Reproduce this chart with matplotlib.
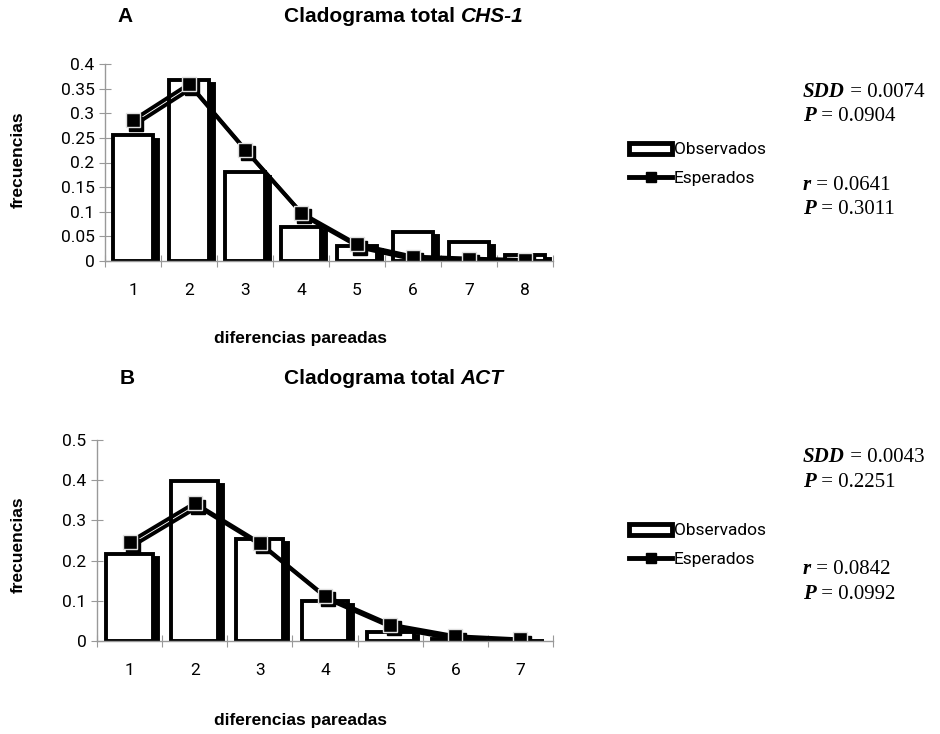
import matplotlib
matplotlib.use("Agg")
import matplotlib.pyplot as plt
import matplotlib.transforms as mtransforms
from matplotlib.lines import Line2D
from matplotlib.patches import Rectangle

# Panel A: CHS-1
cats_a = [1, 2, 3, 4, 5, 6, 7, 8]
obs_a = [0.255, 0.367, 0.180, 0.069, 0.030, 0.059, 0.038, 0.012]
esp_a = [0.286, 0.359, 0.226, 0.098, 0.034, 0.009, 0.005, 0.002]
yticks_a = [0, 0.05, 0.1, 0.15, 0.2, 0.25, 0.3, 0.35, 0.4]
ylabels_a = ["0", "0.05", "0.1", "0.15", "0.2", "0.25", "0.3", "0.35", "0.4"]

# Panel B: ACT
cats_b = [1, 2, 3, 4, 5, 6, 7]
obs_b = [0.216, 0.398, 0.254, 0.100, 0.023, 0.004, 0.001]
esp_b = [0.246, 0.343, 0.244, 0.112, 0.041, 0.012, 0.004]
yticks_b = [0, 0.1, 0.2, 0.3, 0.4, 0.5]
ylabels_b = ["0", "0.1", "0.2", "0.3", "0.4", "0.5"]

stats_a = [("SDD", "0.0074"), ("P", "0.0904"), ("r", "0.0641"), ("P", "0.3011")]
stats_b = [("SDD", "0.0043"), ("P", "0.2251"), ("r", "0.0842"), ("P", "0.0992")]

W, H = 940, 734
fig = plt.figure(figsize=(9.4, 7.34), dpi=100)
sans = "Liberation Sans"
tickfont = "Roboto"
serif = "Liberation Serif"


def panel(rect, cats, obs, esp, ylim, yticks, ylabels):
    ax = fig.add_axes(rect)
    # solid black drop shadow behind the bars and the expected line
    shadow = mtransforms.offset_copy(ax.transData, fig=fig, x=3.5, y=-3, units="points")
    ax.bar(cats, obs, width=0.72, facecolor="black", edgecolor="black",
           linewidth=2.8, transform=shadow, zorder=1)
    ax.bar(cats, obs, width=0.72, facecolor="white", edgecolor="black",
           linewidth=2.8, zorder=2)
    lshadow = mtransforms.offset_copy(ax.transData, fig=fig, x=2.5, y=-2.5, units="points")
    ax.plot(cats, esp, color="black", lw=2.8, marker="s", markersize=10,
            markerfacecolor="black", markeredgecolor="black", transform=lshadow, zorder=3)
    ax.plot(cats, esp, color="black", lw=2.8, marker="s", markersize=10,
            markerfacecolor="black", markeredgecolor="#e0e0e0", markeredgewidth=1,
            zorder=4)
    n = len(cats)
    ax.set_xlim(0.5, n + 0.5)
    ax.set_ylim(*ylim)
    ax.set_yticks(yticks)
    ax.set_yticklabels(ylabels)
    ax.set_xticks([c + 0.5 for c in [0] + cats])
    ax.set_xticks(cats, minor=True)
    ax.set_xticklabels([])
    ax.set_xticklabels([str(c) for c in cats], minor=True)
    for s in ["top", "right"]:
        ax.spines[s].set_visible(False)
    for s in ["left", "bottom"]:
        ax.spines[s].set_color("#999999")
        ax.spines[s].set_linewidth(1)
        ax.spines[s].set_zorder(5)
    ax.tick_params(axis="y", direction="inout", length=9, color="#999999",
                   labelsize=12.5, pad=3)
    ax.tick_params(axis="x", which="major", direction="inout", length=9,
                   color="#999999")
    ax.tick_params(axis="x", which="minor", length=0, labelsize=12.5, pad=16)
    for lab in ax.get_yticklabels() + ax.get_xticklabels(minor=True):
        lab.set_fontfamily(tickfont)
    return ax


def fx(px):
    return px / W


def fy(py):
    return 1 - py / H


ax_a = panel([fx(105), fy(261), fx(448), (261 - 64) / H], cats_a, obs_a, esp_a,
             (0, 0.4), yticks_a, ylabels_a)
ax_b = panel([fx(97), fy(641), fx(456), (641 - 440) / H], cats_b, obs_b, esp_b,
             (0, 0.5), yticks_b, ylabels_b)


def title(letter, lx, y, main, ital, tx):
    fig.text(fx(lx), fy(y), letter, fontsize=15, fontweight="bold", family=sans,
             ha="center", va="center")
    t = fig.text(fx(tx), fy(y), main, fontsize=15, fontweight="bold", family=sans,
                 ha="left", va="center")
    plt.annotate(ital, xy=(1, 0), xycoords=t, xytext=(0, 0),
                 textcoords="offset points", fontsize=15, fontweight="bold",
                 fontstyle="italic", family=sans, ha="left", va="bottom",
                 annotation_clip=False)


title("A", 125, 17, "Cladograma total ", "CHS-1", 284)
title("B", 127, 378, "Cladograma total ", "ACT", 284)

for y, ylab, xl in [(339, 160, "diferencias pareadas"), (720, 545, "diferencias pareadas")]:
    fig.text(fx(300), fy(y), xl, fontsize=12.5, fontweight="bold", family=sans,
             ha="center", va="center")
    fig.text(fx(18), fy(ylab), "frecuencias", fontsize=12.5, fontweight="bold",
             family=sans, rotation=90, ha="center", va="center")


def stats(vals, ys):
    for (sym, val), y in zip(vals, ys):
        t = fig.text(fx(803), fy(y), sym, fontsize=15, fontweight="bold",
                     fontstyle="italic", family=serif, ha="left", va="center")
        plt.annotate(" = " + val, xy=(1, 0), xycoords=t, xytext=(0, 0),
                     textcoords="offset points", fontsize=15, family=serif,
                     ha="left", va="bottom", annotation_clip=False)


stats(stats_a, [92, 116, 185, 209])
stats(stats_b, [457, 482, 569, 594])

handles = [
    Rectangle((0, 0), 1, 1, facecolor="white", edgecolor="black", linewidth=3.5),
    Line2D([], [], color="black", lw=3.5, marker="s", markersize=7,
           markerfacecolor="black", markeredgecolor="black"),
]
labels = ["Observados", "Esperados"]
for y in [164, 545]:
    fig.legend(handles, labels, loc="center left", bbox_to_anchor=(fx(622), fy(y)),
               frameon=False, prop={"family": tickfont, "size": 12.5},
               handlelength=2.5, handleheight=0.6, handletextpad=0.1,
               labelspacing=0.75, borderaxespad=0)

fig.savefig("out.png", dpi=100)
